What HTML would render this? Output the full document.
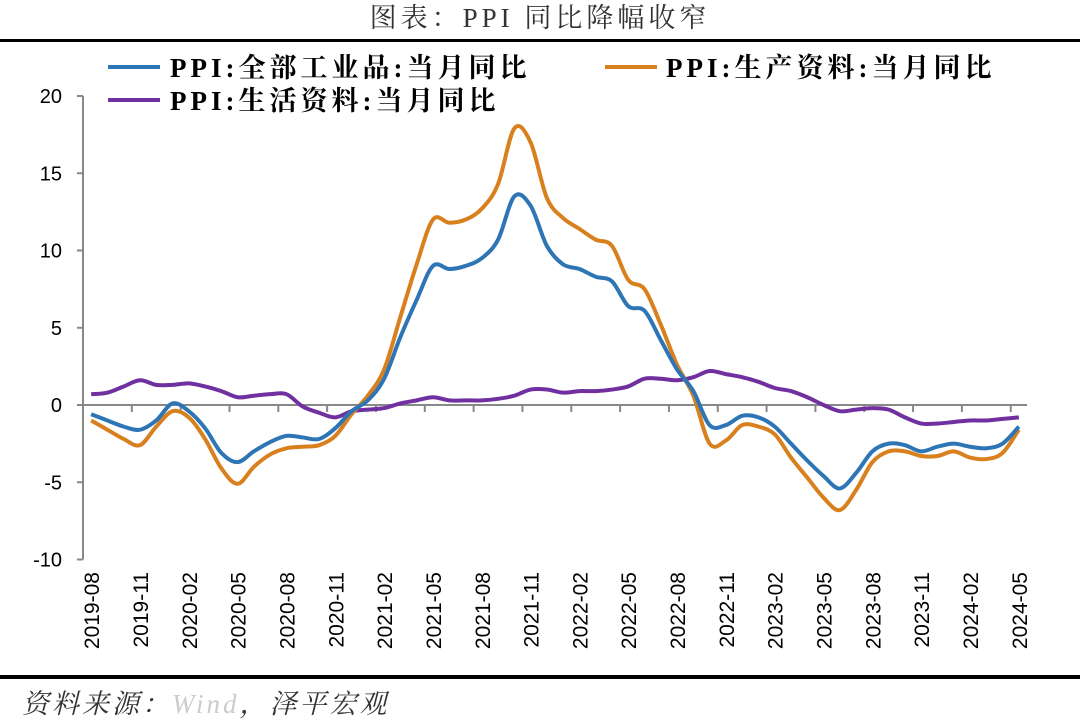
<!DOCTYPE html>
<html><head><meta charset="utf-8"><style>
body{margin:0;background:#fff;width:1080px;height:722px;overflow:hidden}
svg{display:block}
</style></head><body>
<svg id="c" width="1080" height="722">
<text x="540" y="27" text-anchor="middle" font-family="'Liberation Serif','Noto Serif CJK SC',serif" font-size="27" letter-spacing="4" fill="#333">图表：PPI 同比降幅收窄</text>
<rect x="0" y="39" width="1080" height="3" fill="#000"/>
<rect x="0" y="675" width="1080" height="4" fill="#000"/>
<text x="22" y="713" font-family="'Liberation Serif','Noto Serif CJK SC',serif" font-style="italic" font-size="27" letter-spacing="3" fill="#333">资料来源：<tspan fill="#ccc">Wind</tspan>，泽平宏观</text>
<g id="axes"></g><g id="series"></g>
<g font-family="'Liberation Serif','Noto Serif CJK SC',serif" font-weight="bold" font-size="27" letter-spacing="4" fill="#000">
<line x1="108" y1="67" x2="160" y2="67" stroke="#2E75B6" stroke-width="4"/>
<text x="170" y="77">PPI:全部工业品:当月同比</text>
<line x1="605" y1="67" x2="657" y2="67" stroke="#D9801E" stroke-width="4"/>
<text x="666" y="77">PPI:生产资料:当月同比</text>
<line x1="108" y1="100" x2="160" y2="100" stroke="#7030A0" stroke-width="4"/>
<text x="170" y="110">PPI:生活资料:当月同比</text>
</g>
</svg>
<script>
const months=[];for(let y=2019,m=8;months.length<58;){months.push(y+'-'+String(m).padStart(2,'0'));m++;if(m>12){m=1;y++;}}
const yTicks=[20,15,10,5,0,-5,-10];
const allPPI=[-0.6,-1.0,-1.4,-1.6,-1.0,0.1,-0.4,-1.5,-3.1,-3.7,-3.0,-2.4,-2.0,-2.1,-2.2,-1.5,-0.4,0.3,1.7,4.4,6.8,9.0,8.8,9.0,9.5,10.7,13.5,12.9,10.3,9.1,8.8,8.3,8.0,6.4,6.1,4.2,2.3,0.9,-1.3,-1.3,-0.7,-0.8,-1.4,-2.5,-3.6,-4.6,-5.4,-4.4,-3.0,-2.5,-2.6,-3.0,-2.7,-2.5,-2.7,-2.8,-2.5,-1.4];
const producer=[-1.0,-1.6,-2.2,-2.6,-1.4,-0.4,-0.8,-2.2,-4.1,-5.1,-4.0,-3.2,-2.8,-2.7,-2.6,-2.0,-0.6,0.6,2.3,5.7,9.1,12.0,11.8,12.0,12.7,14.3,17.9,17.0,13.4,12.1,11.4,10.7,10.3,8.1,7.5,5.2,2.6,0.6,-2.5,-2.3,-1.3,-1.4,-1.9,-3.4,-4.7,-6.0,-6.8,-5.5,-3.7,-3.0,-3.0,-3.3,-3.3,-3.0,-3.4,-3.5,-3.1,-1.6];
const consumer=[0.7,0.8,1.2,1.6,1.3,1.3,1.4,1.2,0.9,0.5,0.6,0.7,0.7,-0.1,-0.5,-0.8,-0.4,-0.3,-0.2,0.1,0.3,0.5,0.3,0.3,0.3,0.4,0.6,1.0,1.0,0.8,0.9,0.9,1.0,1.2,1.7,1.7,1.6,1.8,2.2,2.0,1.8,1.5,1.1,0.9,0.5,0.0,-0.4,-0.3,-0.2,-0.3,-0.8,-1.2,-1.2,-1.1,-1.0,-1.0,-0.9,-0.8];
const X0=83,X1=1027,n=months.length,step=(X1-X0)/n;
const x=i=>X0+step*(i+0.5);
const y=v=>405-v*15.45;
const NS='http://www.w3.org/2000/svg';
function mk(tag,attrs,parent){const e=document.createElementNS(NS,tag);for(const k in attrs)e.setAttribute(k,attrs[k]);parent.appendChild(e);return e;}
const ax=document.getElementById('axes');
let a=mk('line',{x1:X0,y1:y(20),x2:X0,y2:y(-10),stroke:'#888','stroke-width':2},ax);


a=mk('line',{x1:X0,y1:y(0),x2:X1,y2:y(0),stroke:'#888','stroke-width':2},ax);


yTicks.forEach(v=>{
  const t=mk('line',{x1:X0-6,y1:y(v),x2:X0,y2:y(v),stroke:'#888','stroke-width':2},ax);
  
  
  const l=mk('text',{x:62,y:y(v)+7,'text-anchor':'end','font-family':"'Liberation Sans',sans-serif",'font-size':20,fill:'#000'},ax);
  l.textContent=v;
  
  
});
for(let i=0;i<n;i++){
  if(i%3===0&&i>0){const t=mk('line',{x1:X0+step*i,y1:y(0),x2:X0+step*i,y2:y(0)+7,stroke:'#888','stroke-width':2},ax);
    
    }
  if(i%3===0){const l=mk('text',{transform:`translate(${x(i)+8},572) rotate(-90)`,'text-anchor':'end','font-family':"'Liberation Sans',sans-serif",'font-size':21,fill:'#000'},ax);
    l.textContent=months[i];
    
    }
}
function smooth(vals){const p=vals.map((v,i)=>[x(i),y(v)]);let d=`M${p[0][0]},${p[0][1]}`;
  for(let i=0;i<p.length-1;i++){const p0=p[Math.max(i-1,0)],p1=p[i],p2=p[i+1],p3=p[Math.min(i+2,p.length-1)];
    d+=`C${p1[0]+(p2[0]-p0[0])/6},${p1[1]+(p2[1]-p0[1])/6} ${p2[0]-(p3[0]-p1[0])/6},${p2[1]-(p3[1]-p1[1])/6} ${p2[0]},${p2[1]}`;}
  return d;}
const sg=document.getElementById('series');
let s=mk('path',{d:smooth(consumer),fill:'none',stroke:'#7030A0','stroke-width':4},sg);


s=mk('path',{d:smooth(producer),fill:'none',stroke:'#D9801E','stroke-width':4},sg);


s=mk('path',{d:smooth(allPPI),fill:'none',stroke:'#2E75B6','stroke-width':4},sg);


</script>
</body></html>
